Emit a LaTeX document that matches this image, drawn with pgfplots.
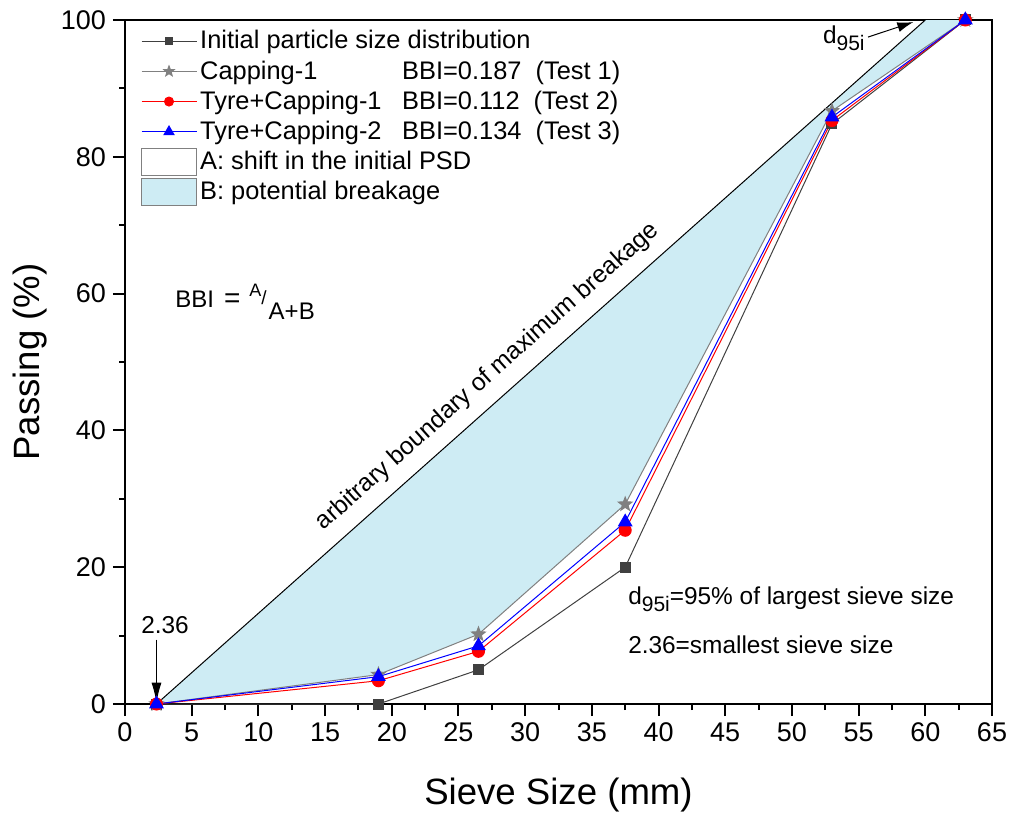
\documentclass[border=0pt]{standalone}
\usepackage{fontspec}
\setmainfont{Liberation Sans}
\usepackage{pgfplots}
\pgfplotsset{compat=1.18}
\usetikzlibrary{arrows.meta}

\definecolor{bfill}{RGB}{206,236,244}
\definecolor{initc}{RGB}{64,64,64}
\definecolor{capc}{RGB}{128,128,128}

% filled five-pointed star
\pgfdeclareplotmark{fstar}{%
  \pgfpathmoveto{\pgfpointpolar{90}{\pgfplotmarksize}}%
  \pgfpathlineto{\pgfpointpolar{126}{0.42*\pgfplotmarksize}}%
  \pgfpathlineto{\pgfpointpolar{162}{\pgfplotmarksize}}%
  \pgfpathlineto{\pgfpointpolar{198}{0.42*\pgfplotmarksize}}%
  \pgfpathlineto{\pgfpointpolar{234}{\pgfplotmarksize}}%
  \pgfpathlineto{\pgfpointpolar{270}{0.42*\pgfplotmarksize}}%
  \pgfpathlineto{\pgfpointpolar{306}{\pgfplotmarksize}}%
  \pgfpathlineto{\pgfpointpolar{342}{0.42*\pgfplotmarksize}}%
  \pgfpathlineto{\pgfpointpolar{18}{\pgfplotmarksize}}%
  \pgfpathlineto{\pgfpointpolar{54}{0.42*\pgfplotmarksize}}%
  \pgfpathclose
  \pgfusepathqfillstroke}

\newcommand{\sub}[1]{\raisebox{-0.55ex}{\fontsize{10.5pt}{12pt}\selectfont #1}}

\pgfplotsset{
  boxlegend/.style={legend image code/.code={%
    \draw[##1] (0pt,-6.75pt) rectangle (27.5pt,6.75pt);}},
}

\begin{document}
\begin{tikzpicture}
\begin{axis}[
  scale only axis,
  width=433.5pt, height=342pt,
  xmin=0, xmax=65, ymin=0, ymax=100,
  xtick={0,5,...,65}, ytick={0,20,...,100},
  minor x tick num=1, minor y tick num=1,
  tick align=outside, xtick pos=bottom, ytick pos=left,
  major tick length=6pt, minor tick length=3pt,
  every tick/.style={black, line width=1pt},
  axis line style={line width=1pt},
  tick label style={font=\fontsize{13.5pt}{16pt}\selectfont},
  /pgf/number format/assume math mode=true,
  xlabel={Sieve Size (mm)}, ylabel={Passing (\%)},
  label style={font=\fontsize{18.3pt}{22pt}\selectfont},
  xlabel style={yshift=-11pt},
  clip=false,
  legend style={draw=none, fill=none, at={(rel axis cs:0.018,0.99)},
    anchor=north west, font=\fontsize{12.7pt}{14pt}\selectfont,
    row sep=1.2pt, inner sep=0pt, nodes={inner sep=1.6pt}},
  legend cell align=left,
  legend image code/.code={%
    \draw[mark repeat=2, mark phase=2, every mark/.append style={scale=0.75}, #1]
      plot coordinates {(0pt,0pt) (13.75pt,0pt) (27.5pt,0pt)};},
]
% B: potential breakage area
\addplot[draw=none, fill=bfill, forget plot] coordinates {
  (2.36,0) (60,100) (63,100) (53,86.7) (37.5,29.2) (26.5,10.2) (19,4.3) (2.36,0)} \closedcycle;
% boundary of maximum breakage
\addplot[black, line width=0.5pt, forget plot] coordinates {(2.36,0) (60,100)}
  node[pos=0.452, sloped, anchor=base, inner sep=0pt, yshift=9pt,
       font=\fontsize{12.3pt}{14pt}\selectfont] {arbitrary boundary of maximum breakage};
\addplot[black, line width=0.5pt, forget plot] coordinates {(60,100) (63,100)};

\addplot[initc, line width=0.5pt, mark=square*, mark size=2.5pt] coordinates {
  (2.36,0) (19,0) (26.5,5) (37.5,20) (53,84.8) (63,100)};
\addlegendentry{Initial particle size distribution}
\addplot[capc, line width=0.5pt, mark=fstar, mark size=3.6pt] coordinates {
  (2.36,0) (19,4.3) (26.5,10.2) (37.5,29.2) (53,86.7) (63,100)};
\addlegendentry{\makebox[101pt][l]{Capping-1}BBI=0.187\ \ (Test 1)}
\addplot[red, line width=0.5pt, mark=*, mark size=3pt] coordinates {
  (2.36,0) (19,3.4) (26.5,7.7) (37.5,25.4) (53,85.3) (63,100)};
\addlegendentry{\makebox[101pt][l]{Tyre+Capping-1}BBI=0.112\ \ (Test 2)}
\addplot[blue, line width=0.5pt, mark=triangle*, mark size=3.8pt] coordinates {
  (2.36,0) (19,4.0) (26.5,8.5) (37.5,26.6) (53,85.8) (63,100)};
\addlegendentry{\makebox[101pt][l]{Tyre+Capping-2}BBI=0.134\ \ (Test 3)}
\addlegendimage{boxlegend, draw=gray, fill=white}
\addlegendentry{A: shift in the initial PSD}
\addlegendimage{boxlegend, draw=gray, fill=bfill}
\addlegendentry{B: potential breakage}

% annotations
\node[anchor=base west, inner sep=0pt, font=\fontsize{12pt}{13pt}\selectfont] at (axis cs:3.75,57.9)
  {BBI\hspace{5pt}{\fontsize{14pt}{16pt}\selectfont =}\hspace{4.5pt}\raisebox{5.5pt}{\fontsize{9pt}{9pt}\selectfont A}\raisebox{1.5pt}{\fontsize{9.5pt}{10pt}\selectfont /}\hspace{1pt}\raisebox{-6pt}{A+B}};
\node[anchor=base west, inner sep=0pt, font=\fontsize{12.2pt}{14pt}\selectfont] at (axis cs:37.7,14.5)
  {d\sub{95i}=95\% of largest sieve size};
\node[anchor=base west, inner sep=0pt, font=\fontsize{12.2pt}{14pt}\selectfont] at (axis cs:37.7,7.4)
  {2.36=smallest sieve size};
\node[font=\fontsize{12.2pt}{14pt}\selectfont] at (axis cs:3.0,11.5) {2.36};
\draw[-{Latex[length=10pt,width=5pt]}, line width=0.5pt] (axis cs:2.36,9.4) -- (axis cs:2.36,0.2);
\node[anchor=base west, inner sep=0pt, font=\fontsize{12.2pt}{14pt}\selectfont] at (axis cs:52.3,96.6) {d\sub{95i}};
\draw[-{Latex[length=8pt,width=5pt]}, line width=0.5pt] (axis cs:55.7,97.5) -- (axis cs:59.1,99.7);
\end{axis}
\path (current axis.south west) ++(-62.5pt,-58pt) (current axis.north east) ++(11pt,10pt);
\end{tikzpicture}
\end{document}
